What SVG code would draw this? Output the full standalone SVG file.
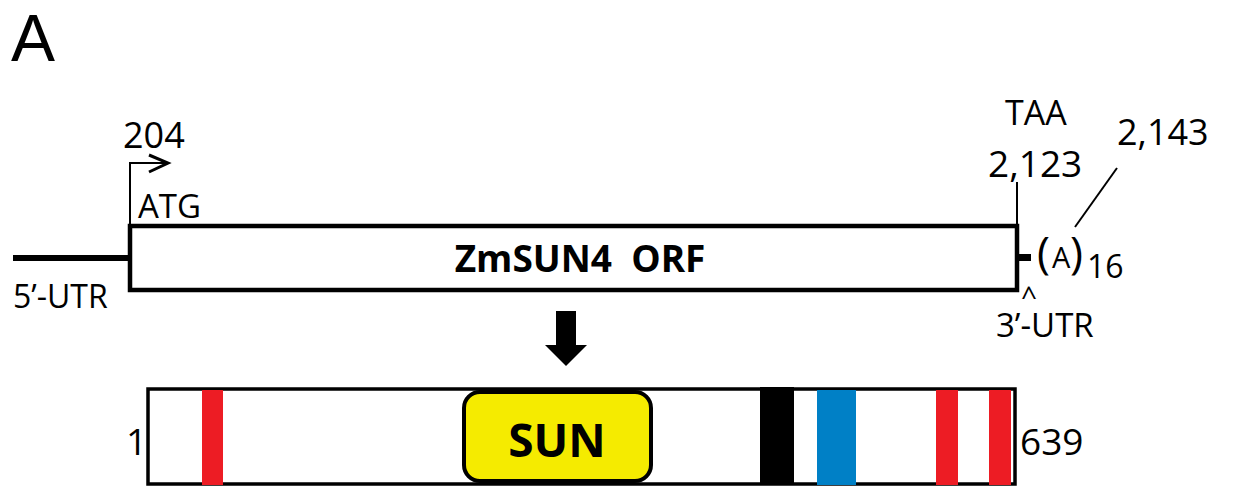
<svg xmlns="http://www.w3.org/2000/svg" width="1255" height="487" viewBox="0 0 1255 487">
<style>
text{font-family:"Open Sans","Liberation Sans",sans-serif;fill:#000}
.thin{stroke:#000;stroke-width:2;fill:none}
.box{fill:#fff;stroke:#000;stroke-width:4.5}
.bold{font-weight:bold}
</style>
<rect width="1255" height="487" fill="#fff"/>
<text x="11" y="61" font-size="66" style="font-family:'Liberation Sans',sans-serif">A</text>

<g id="connectors">
  <line x1="13" y1="258" x2="131" y2="258" stroke="#000" stroke-width="6"/>
  <rect x="1014" y="250" width="5" height="23" fill="#000"/>
  <rect x="1017" y="254" width="14" height="7" fill="#000"/>
  <polyline class="thin" points="130,226 130,163 166,163"/>
  <polyline points="149,155 168,163 149,172" fill="none" stroke="#000" stroke-width="3"/>
  <line class="thin" x1="1017" y1="182" x2="1017" y2="226"/>
  <line class="thin" x1="1117" y1="168" x2="1075" y2="227"/>
  <path d="M556,311 H576 V345 H587 L566,366 L545,345 H556 Z" fill="#000"/>
</g>

<g id="orf">
  <rect class="box" x="130" y="226" width="887" height="64"/>
  <text x="580" y="272" font-size="37" class="bold" text-anchor="middle" xml:space="preserve" style="white-space:pre">ZmSUN4  ORF</text>
</g>

<g id="labels">
  <text x="123" y="148" font-size="36">204</text>
  <text x="138" y="218" font-size="33">ATG</text>
  <text x="13" y="308" font-size="32">5’-UTR</text>
  <text x="1005" y="125" font-size="34">TAA</text>
  <text x="988" y="177" font-size="37">2,123</text>
  <text x="1117" y="145" font-size="36">2,143</text>
  <text x="1037" y="268" font-size="44">(</text>
  <text x="1052" y="268" font-size="29">A</text>
  <text x="1070" y="268" font-size="44">)</text>
  <text x="1087" y="278" font-size="32">16</text>
  <text font-size="28"><tspan x="1021" y="306">^</tspan><tspan x="996" y="337" font-size="33">3’-UTR</tspan></text>
</g>

<g id="protein">
  <rect x="148" y="389" width="867" height="95" fill="#fff" stroke="#000" stroke-width="3.5"/>
  <rect x="202" y="390" width="21" height="95" fill="#ED1C24"/>
  <rect x="760" y="387" width="34" height="98" fill="#000"/>
  <rect x="817" y="390" width="39" height="95" fill="#0080C6"/>
  <rect x="936" y="390" width="22" height="95" fill="#ED1C24"/>
  <rect x="989" y="390" width="22" height="95" fill="#ED1C24"/>
  <text x="126" y="455" font-size="37">1</text>
  <text x="1020" y="455" font-size="37">639</text>
</g>

<g id="sun">
  <rect x="464" y="392" width="187" height="89" rx="16" fill="#F5EB00" stroke="#000" stroke-width="4"/>
  <text x="557" y="457" font-size="46" class="bold" text-anchor="middle">SUN</text>
</g>
</svg>
